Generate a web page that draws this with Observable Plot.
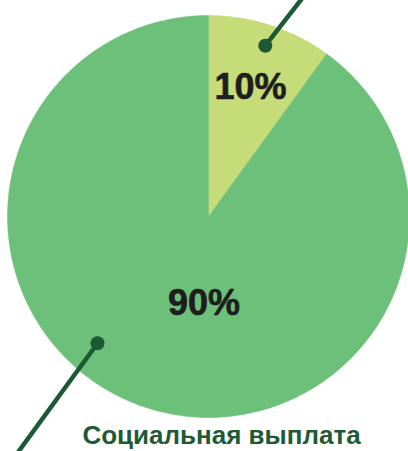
<!DOCTYPE html>
<html>
<head>
<meta charset="utf-8">
<script src="https://cdn.jsdelivr.net/npm/d3@7"></script>
<script src="https://cdn.jsdelivr.net/npm/@observablehq/plot@0.6"></script>
<style>
  html, body { margin: 0; padding: 0; background: #fff; }
  svg { display: block; }
</style>
</head>
<body>
<div id="chart"></div>
<script>
// ---- data ----
const categories = ["Прочее", "Социальная выплата"];
const values = [10, 90];
const labels = ["10%", "90%"];
const caption = "Социальная выплата";

// ---- style / layout ----
const colors = ["#c5dc78", "#6cc07a"];
const R = 201;                       // pie radius (px units)
const labelPos = [{a: 18, r: 136}, {a: 183, r: 87}];   // label angle (deg from top) and radius
const leaders = [                     // leader lines: dot (angle,r) -> outer end (angle,r)
  {a0: 18.4, r0: 180, a1: 23.4, r1: 240},
  {a0: 221.2, r0: 168.5, a1: 218.9, r1: 307}
];

const rad = d => d * Math.PI / 180;
const px = (a, r) => r * Math.sin(rad(a));
const py = (a, r) => r * Math.cos(rad(a));

// slices as polygons from cumulative shares
const total = d3.sum(values);
let acc = 0;
const slicePts = [];
categories.forEach((c, i) => {
  const a0 = acc / total * 360;
  acc += values[i];
  const a1 = acc / total * 360;
  slicePts.push({cat: c, x: 0, y: 0});
  const n = Math.max(2, Math.ceil((a1 - a0) / 1));
  for (let k = 0; k <= n; k++) {
    const a = a0 + (a1 - a0) * k / n;
    slicePts.push({cat: c, x: px(a, R), y: py(a, R)});
  }
  slicePts.push({cat: c, x: 0, y: 0});
});

const labelData = labels.map((t, i) => ({t, x: px(labelPos[i].a, labelPos[i].r), y: py(labelPos[i].a, labelPos[i].r)}));
const leaderLines = leaders.flatMap((l, i) => [
  {id: i, x: px(l.a0, l.r0), y: py(l.a0, l.r0)},
  {id: i, x: px(l.a1, l.r1), y: py(l.a1, l.r1)}
]);
const leaderDots = leaders.map((l, i) => ({x: px(l.a0, l.r0), y: py(l.a0, l.r0)}));

const chart = Plot.plot({
  width: 408,
  height: 451,
  margin: 0,
  x: {domain: [-208, 200], axis: null},
  y: {domain: [-235, 216], axis: null},
  color: {domain: categories, range: colors},
  style: {fontFamily: "'Liberation Sans', Arial, sans-serif", background: "#fff"},
  marks: [
    Plot.line(slicePts, {x: "x", y: "y", z: "cat", fill: "cat", stroke: "cat", strokeWidth: 0.5, curve: "linear"}),
    Plot.text(labelData, {x: "x", y: "y", text: "t", fontSize: 36, fontWeight: "bold", fill: "#1e1e1e", stroke: "#1e1e1e", strokeWidth: 0.6, textAnchor: "middle", lineAnchor: "middle"}),
    Plot.line(leaderLines, {x: "x", y: "y", z: "id", stroke: "#1b5a34", strokeWidth: 4.5}),
    Plot.dot(leaderDots, {x: "x", y: "y", r: 7, fill: "#1b5a34", stroke: "none"}),
    Plot.text([caption], {x: () => 13, y: () => -219.5, text: d => d, fontSize: 26, fontWeight: "bold", fill: "#1e5a35", textAnchor: "middle", lineAnchor: "middle"})
  ]
});
document.getElementById("chart").appendChild(chart);
</script>
</body>
</html>
